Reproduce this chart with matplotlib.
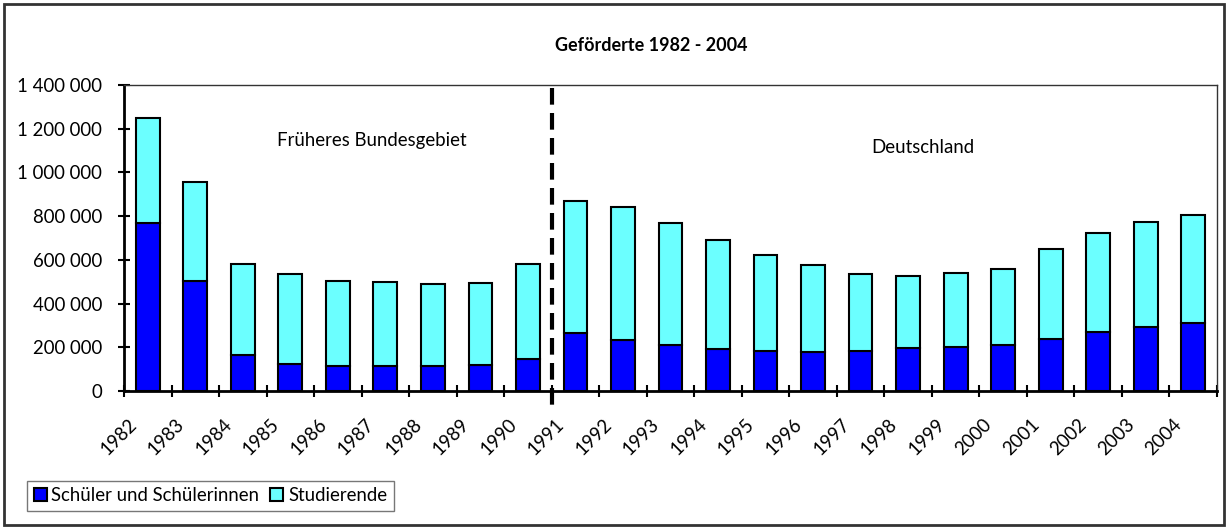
import matplotlib
matplotlib.use("Agg")
import matplotlib.pyplot as plt
import matplotlib.transforms as mtransforms
from matplotlib.patches import Rectangle
import numpy as np

plt.rcParams['font.family'] = ['Lato', 'DejaVu Sans']

years = [str(y) for y in range(1982, 2005)]
schueler = [770000, 503000, 163000, 125000, 116000, 116000, 116000, 120500,
            148000, 265000, 233000, 209000, 193500, 181500, 177000, 184000,
            195000, 201000, 211000, 240000, 271000, 295000, 312000]
studierende = [479000, 454500, 419000, 409000, 387000, 383000, 372000, 375500,
               432000, 605000, 611000, 561000, 495500, 440500, 399000, 350000,
               333000, 337000, 347000, 408000, 452000, 479500, 494000]
yticks = [0, 200000, 400000, 600000, 800000, 1000000, 1200000, 1400000]

fs = 13.4

fig = plt.figure(figsize=(12.26, 5.27), dpi=100)
ax = fig.add_axes([124/1226, 136/527, (1217-124)/1226, (391-85)/527])

x = np.arange(len(years))
ax.bar(x, schueler, width=0.5, color='#0000FF', edgecolor='black',
       linewidth=1.5, label='Schüler und Schülerinnen')
ax.bar(x, studierende, width=0.5, bottom=schueler, color='#6BFFFF',
       edgecolor='black', linewidth=1.5, label='Studierende')

ax.set_xlim(-0.5, len(years) - 0.5)
ax.set_ylim(0, 1400000)

# break between old and new territory
ax.plot([8.5, 8.5], [1385000, -88000], color='black', lw=3,
        linestyle=(0, (4, 2)), clip_on=False)

ax.set_yticks(yticks)
ax.set_yticklabels([f"{v:,}".replace(",", " ") for v in yticks], fontsize=fs)
ax.set_xticks(np.arange(len(years) + 1) - 0.5)
ax.set_xticklabels([])
ax.set_xticks(x, minor=True)
ax.set_xticklabels(years, minor=True, rotation=45, ha='right', va='top',
                   fontsize=fs)
ax.tick_params(axis='x', which='minor', length=0, pad=18)
ax.tick_params(axis='both', which='major', direction='inout', length=8.6,
               width=1.5)
ax.tick_params(axis='y', pad=11.5)
offset = mtransforms.ScaledTranslation(-8/100, 0, fig.dpi_scale_trans)
for lab in ax.get_xticklabels(minor=True):
    lab.set_transform(lab.get_transform() + offset)

for s in ['left', 'bottom']:
    ax.spines[s].set_linewidth(2)
for s in ['top', 'right']:
    ax.spines[s].set_linewidth(1)
    ax.spines[s].set_color('#333333')

ax.text(4.72, 1144000, 'Früheres Bundesgebiet', fontsize=fs,
        ha='center', va='center')
ax.text(16.31, 1112000, 'Deutschland', fontsize=fs, ha='center', va='center')

fig.text(651/1226, 1 - 45/527, 'Geförderte 1982 - 2004', fontsize=13,
         fontweight='bold', ha='center', va='center')

leg = fig.legend(loc='lower left', bbox_to_anchor=(27/1226, 16/527),
                 ncol=2, fontsize=fs, frameon=True, fancybox=False,
                 borderaxespad=0, handlelength=0.7, handleheight=0.7,
                 handletextpad=0.25, columnspacing=0.6, borderpad=0.35)
leg.get_frame().set_edgecolor('#555555')
leg.get_frame().set_linewidth(1)

fig.patches.append(Rectangle((4/1226, 2/527), 1220/1226, 521/527,
                             transform=fig.transFigure, fill=False,
                             edgecolor='#333333', linewidth=2))

fig.savefig('out.png', dpi=100)
